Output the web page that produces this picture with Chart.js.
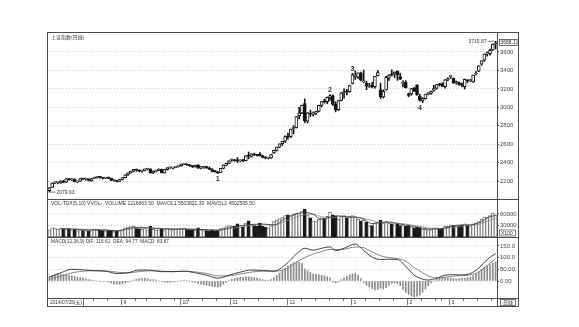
<!DOCTYPE html>
<html><head><meta charset="utf-8">
<script src="https://cdn.jsdelivr.net/npm/chart.js@4.4.1/dist/chart.umd.min.js"></script>
<style>
html,body{margin:0;padding:0;background:#fff;}
body{width:579px;height:327px;position:relative;overflow:hidden;}
canvas{position:absolute;}
.ln{position:absolute;background:#4a4a4a;z-index:5;}
</style></head><body>
<canvas id="cp" width="470" height="166" style="left:48px;top:33px"></canvas>
<canvas id="cv" width="470" height="38" style="left:48px;top:199px"></canvas>
<canvas id="cm" width="470" height="69" style="left:48px;top:237px"></canvas>
<div class="ln" style="left:47px;top:32px;width:472px;height:1px"></div>
<div class="ln" style="left:47px;top:306px;width:472px;height:1px"></div>
<div class="ln" style="left:47px;top:32px;width:1px;height:275px"></div>
<div class="ln" style="left:518px;top:32px;width:1px;height:275px"></div>
<div class="ln" style="left:497px;top:32px;width:1px;height:275px"></div>
<div class="ln" style="left:47px;top:199px;width:472px;height:1px"></div>
<div class="ln" style="left:47px;top:237px;width:472px;height:1px"></div>
<div class="ln" style="left:47px;top:298px;width:472px;height:1px"></div>
<script>
// ---------- DATA ----------
const priceTitle = '上证指数(日线)';
const volTitle = 'VOL-TDX(5,10) VVOL-  VOLUME 1216863.50  MAVOL1 5503821.30  MAVOL2 4502595.50';
const macdTitle = 'MACD(12,26,9) DIF: 116.61  DEA: 94.77  MACD: 83.67';
const firstDate = '2014/07/25(五)';
const periodLabel = '日线';
const lastPriceLabel = '3688.1';
const volUnitLabel = 'X100';

const opens = [2095,2131,2180,2182,2180,2198,2187,2222,2213,2222,
2190,2198,2226,2222,2222,2205,2228,2238,2243,2236,
2232,2240,2228,2206,2205,2196,
2218,2236,2267,2288,2308,2326,2313,2306,2316,2330,2330,
2287,2305,2316,2327,2289,2322,2344,2340,2348,2357,
2365,2383,2384,2370,2366,2354,2372,2340,2342,2356,
2340,2325,2305,2300,2292,2336,2372,2390,
2425,2430,2420,2418,2425,2420,2478,2466,2495,2485,
2495,2474,2455,2448,2450,2505,2532,2568,2604,2632,
2685,2680,2770,2780,2910,2940,3040,2850,2935,2925,
2938,2955,3020,3063,3060,3110,3125,3035,2975,3075,3160,3168,3170,
3258,3330,3327,3372,3276,3259,3223,3242,3224,3343,
3189,3113,3189,3317,3355,3359,3393,3330,3259,3273,
3147,3144,3212,3243,3121,3068,3093,3142,3150,3186,3207,3250,3257,3225,3298,
3332,3317,3264,3265,3246,3224,3292,3288,3276,3361,3391,3469,3510,3579,3583,3622,3689];
const highs = [2130,2180,2190,2186,2203,2208,2225,2230,2226,2225,
2198,2228,2230,2232,2225,2228,2243,2248,2248,2240,
2242,2243,2232,2212,2208,2218,
2238,2267,2290,2308,2327,2330,2322,2320,2332,2337,2335,
2310,2320,2332,2330,2325,2346,2352,2350,2358,2365,
2385,2391,2387,2380,2370,2374,2378,2360,2360,2362,
2352,2335,2313,2303,2337,2375,2395,2421,
2440,2436,2455,2430,2435,2475,2515,2495,2502,2490,
2508,2480,2462,2460,2490,2535,2568,2604,2632,2690,
2720,2764,2800,2900,3000,3025,3091,2942,2970,2950,
2958,3022,3062,3090,3112,3139,3135,3060,3075,3160,3200,3195,3240,
3369,3394,3374,3381,3404,3282,3260,3270,3337,3400,
3262,3190,3338,3354,3406,3384,3396,3371,3286,3289,
3156,3205,3214,3244,3142,3106,3142,3159,3177,3237,3248,3254,3265,3300,3323,
3344,3317,3286,3276,3266,3307,3300,3303,3350,3390,3450,3507,3578,3600,3632,3688,3715.87];
const lows = [2079.63,2130,2170,2170,2175,2183,2185,2210,2205,2192,
2182,2196,2215,2210,2200,2198,2225,2232,2230,2222,
2225,2226,2204,2198,2190,2193,
2212,2234,2262,2283,2300,2305,2300,2295,2310,2320,2285,
2281,2300,2312,2288,2285,2318,2337,2332,2342,2350,
2360,2377,2368,2358,2345,2350,2338,2330,2338,2338,
2325,2300,2296,2280,2290,2333,2365,2388,
2415,2415,2400,2410,2410,2418,2440,2460,2475,2470,
2470,2450,2440,2440,2446,2500,2525,2560,2585,2620,
2655,2670,2710,2775,2875,2930,2834,2830,2900,2905,
2920,2950,3005,3045,3040,3075,3020,2950,2965,3070,3100,3135,3165,
3253,3303,3312,3285,3268,3191,3215,3210,3207,3340,
3095,3100,3186,3292,3340,3323,3292,3300,3220,3209,
3114,3130,3170,3130,3066,3049,3089,3135,3140,3176,3197,3230,3222,3207,3289,
3313,3260,3250,3238,3221,3198,3267,3279,3270,3350,3386,3456,3498,3555,3565,3617,3632];
const closes = [2126,2178,2183,2182,2201,2185,2223,2217,2224,2194,
2194,2227,2224,2223,2206,2226,2239,2245,2240,2232,
2240,2229,2207,2206,2195,2217,
2235,2266,2288,2306,2326,2318,2307,2315,2331,2331,2290,
2308,2315,2329,2290,2323,2344,2345,2347,2357,2363,
2382,2389,2374,2366,2356,2373,2340,2341,2357,2340,
2327,2303,2302,2290,2337,2373,2391,2420,
2430,2420,2419,2425,2418,2473,2469,2494,2485,2478,
2474,2456,2450,2452,2487,2532,2567,2604,2630,2683,
2680,2763,2780,2899,2937,3020,2856,2940,2925,2938,
2953,3021,3061,3058,3108,3128,3032,2973,3073,3157,3168,3166,3235,
3351,3352,3374,3294,3285,3229,3223,3222,3336,3376,
3116,3173,3324,3343,3351,3383,3353,3305,3263,3211,
3128,3204,3175,3137,3076,3095,3142,3158,3173,3204,3247,3246,3229,3298,3310,
3336,3263,3280,3248,3241,3302,3286,3290,3349,3372,3449,3503,3577,3582,3617,3687,3691];
const volumes = [19000,24000,22000,20000,23000,21000,22000,21000,19000,20000,
16000,19000,17000,17000,16000,17000,21000,20000,19000,17000,
16000,17000,17000,14000,15000,16000,
19000,24000,26000,27000,28000,24000,22000,20000,22000,19000,28000,
20000,18000,19000,22000,19000,22000,21000,19000,20000,21000,
22000,22000,20000,19000,19000,18000,24000,19000,17000,17000,
16000,18000,16000,17000,22000,24000,27000,30000,
29000,28000,34000,26000,25000,36000,42000,33000,30000,28000,
36000,28000,25000,23000,30000,40000,44000,48000,52000,56000,
58000,56000,60000,62000,62000,66000,73000,58000,50000,42000,
40000,46000,50000,48000,54000,64000,58000,55000,46000,54000,56000,50000,52000,
56000,52000,46000,42000,44000,38000,30000,30000,36000,38000,
44000,36000,40000,36000,34000,32000,34000,30000,30000,28000,
30000,26000,24000,26000,24000,20000,20000,19000,19000,24000,24000,22000,22000,28000,28000,
32000,30000,28000,30000,32000,34000,32000,30000,34000,36000,40000,46000,52000,52000,56000,62000,58000];
const mavol1 = [[4,21600],[8,21000],[12,18600],[16,18000],[20,18200],[24,15800],[28,22000],[32,25400],[36,23200],[40,21400],[44,20600],[48,21000],[52,19600],[56,18800],[60,17600],[64,23600],[68,29400],[72,32600],[76,33800],[80,31400],[84,48000],[88,59600],[91,64600],[94,58600],[97,46000],[100,51600],[103,55400],[106,52200],[109,51600],[112,46000],[115,34800],[118,37600],[121,39200],[124,35200],[127,31000],[130,27200],[133,23000],[136,20400],[139,21600],[142,24800],[145,30600],[148,31000],[151,32600],[154,40000],[157,52800],[159,56000]];
const mavol2 = [[9,21000],[12,20000],[16,19000],[20,18200],[24,16800],[28,19500],[32,23000],[36,23500],[40,22200],[44,21000],[48,20800],[52,20200],[56,19200],[60,18300],[64,21000],[68,26000],[72,30500],[76,32000],[80,31500],[84,40500],[88,52000],[91,58000],[94,59500],[97,52500],[100,50500],[103,52500],[106,53500],[109,52500],[112,48500],[115,42500],[118,37500],[121,37000],[124,36000],[127,33500],[130,30000],[133,26500],[136,22500],[139,21200],[142,23000],[145,26500],[148,29500],[151,31000],[154,34500],[157,44000],[159,49000]];
const difLine = [[0,17],[4,35],[8,50],[12,48],[16,44],[20,42],[24,32],[28,35],[32,47],[36,46],[40,40],[44,40],[48,42],[52,35],[56,25],[60,12],[64,25],[68,38],[72,47],[76,45],[80,42],[84,68],[88,115],[91,140],[94,132],[97,140],[100,146],[102,130],[105,140],[109,158],[112,130],[115,102],[118,92],[121,93],[124,92],[127,62],[130,25],[133,8],[135,4],[138,12],[141,25],[144,27],[147,26],[150,32],[153,55],[156,92],[159,117]];
const deaLine = [[0,8],[4,20],[8,35],[12,42],[16,44],[20,43],[24,38],[28,35],[32,40],[36,44],[40,42],[44,40],[48,41],[52,39],[56,32],[60,22],[64,22],[68,30],[72,38],[76,42],[80,42],[84,50],[88,80],[91,100],[94,115],[97,126],[100,135],[102,134],[105,136],[109,145],[112,142],[115,124],[118,108],[121,100],[124,96],[127,84],[130,58],[133,35],[135,22],[138,13],[141,16],[144,21],[147,23],[150,26],[153,38],[156,66],[159,95]];
const macdHist = [18,22,26,30,30,28,26,24,22,20,
16,14,12,8,6,4,2,0,-1,-2,
-2,-4,-8,-12,-14,-14,-12,-8,-4,0,
4,8,10,12,12,10,6,6,4,2,
-2,-4,-6,-6,-4,-2,0,2,4,2,
0,-4,-6,-10,-14,-16,-18,-20,-22,-24,
-26,-22,-14,-6,2,8,12,14,16,16,
18,18,16,14,12,8,6,4,2,6,
14,24,34,44,54,64,72,78,82,80,
74,52,44,36,30,28,26,24,22,18,
14,-4,-8,-4,6,14,20,26,30,34,
24,10,-6,-18,-26,-32,-38,-36,-30,-34,
-28,-18,-10,-8,-12,-20,-36,-48,-58,-64,
-68,-66,-60,-48,-34,-20,-8,2,8,12,
14,16,14,12,10,8,10,12,12,14,
16,22,30,40,50,58,64,70,76,82];
const waveLabels = [{t:'1',i:60,p:2280,up:false},{t:'2',i:100,p:3139,up:true},{t:'3',i:108,p:3369,up:true},{t:'4',i:132,p:3049,up:false}];
const priceTicks = [2200,2400,2600,2800,3000,3200,3400,3600];
const volTicks = [30000,60000];
const macdTicks = [0,50,100,150];
const macdTickLabels = ['0.00','50.00','100.0','150.0'];
const monthStarts = [26,47,65,85,108,128,143];
const monthLabels = ['9','10','11','12','1','2','3'];
const weekStarts = [16,21,31,35,40,45,50,55,60,70,75,80,90,95,100,105,113,118,123,133,138,140,148,153,158];

// ---------- HELPERS ----------
const N = closes.length;
const idx = closes.map((_, i) => i);
const isUp = closes.map((c, i) => c >= opens[i]);
const FONT = '"Liberation Sans", "DejaVu Sans", sans-serif';
const CJK = '"Liberation Sans", "Noto Sans CJK SC", sans-serif';

function xScale() {
  return {type: 'linear', min: -0.5, max: N - 0.5, display: false, offset: false};
}
function yRight(min, max, ticks, labelFn) {
  return {
    type: 'linear', position: 'right', min, max,
    afterBuildTicks(s) { s.ticks = ticks.map(v => ({value: v})); },
    afterFit(s) { s.width = 21; s.paddingTop = 0; s.paddingBottom = 0; },
    ticks: {font: {family: 'Liberation Sans', size: 6}, color: '#444', padding: 1, callback: labelFn},
    grid: {color: '#cfcfcf', lineWidth: 1, drawTicks: true, tickLength: 2, tickColor: '#555', tickBorderDash: []},
    border: {display: false, dash: [1, 2]}
  };
}
const baseOpts = (extra) => Object.assign({
  responsive: false, animation: false, devicePixelRatio: 1,
  plugins: {legend: {display: false}, tooltip: {enabled: false}},
  layout: {padding: 0}
}, extra);

// ---------- PRICE ----------
const priceDeco = {
  id: 'priceDeco',
  afterDraw(chart) {
    const {ctx, chartArea: a, scales: {x, y}} = chart;
    ctx.save();
    ctx.fillStyle = '#333';
    ctx.textAlign = 'left'; ctx.textBaseline = 'top';
    ctx.font = '5px "Noto Sans CJK SC"';
    ctx.fillText(priceTitle, 3, 2);
    ctx.font = 'bold 7px ' + FONT;
    ctx.textAlign = 'center';
    waveLabels.forEach(w => {
      const px = x.getPixelForValue(w.i), py = y.getPixelForValue(w.p);
      ctx.textBaseline = w.up ? 'bottom' : 'top';
      ctx.fillText(w.t, px, w.up ? py - 1 : py + 2);
    });
    ctx.font = '5px ' + FONT;
    ctx.strokeStyle = '#333'; ctx.lineWidth = 0.7;
    let li = 0; lows.forEach((v, i) => { if (v < lows[li]) li = i; });
    const lx = x.getPixelForValue(li), ly = y.getPixelForValue(lows[li]);
    ctx.beginPath(); ctx.moveTo(lx + 1, ly); ctx.lineTo(lx + 6, ly); ctx.stroke();
    ctx.textAlign = 'left'; ctx.textBaseline = 'middle';
    ctx.fillText(lows[li].toFixed(2), lx + 7, ly + 0.5);
    let hi = 0; highs.forEach((v, i) => { if (v > highs[hi]) hi = i; });
    const hx = x.getPixelForValue(hi), hy = y.getPixelForValue(highs[hi]);
    ctx.beginPath(); ctx.moveTo(hx - 2, hy); ctx.lineTo(hx - 8, hy); ctx.stroke();
    ctx.textAlign = 'right';
    ctx.fillText(highs[hi].toFixed(2), hx - 9, hy + 0.5);
    const cy = y.getPixelForValue(closes[N - 1]) - 1;
    ctx.fillStyle = '#fff';
    ctx.fillRect(a.right + 2, cy - 3, 18, 6);
    ctx.strokeRect(a.right + 2.5, cy - 3, 17.5, 6);
    ctx.fillStyle = '#333'; ctx.textAlign = 'left';
    ctx.fillText(lastPriceLabel, a.right + 3.5, cy + 0.3);
    ctx.restore();
  }
};
new Chart(document.getElementById('cp'), {
  type: 'bar',
  data: {datasets: [
    {type: 'bar', data: idx.map(i => ({x: i, y: [lows[i], highs[i]]})), backgroundColor: '#151515',
     borderWidth: 0, barThickness: 1, grouped: false, order: 2},
    {type: 'bar', data: idx.map(i => ({x: i, y: [opens[i], closes[i]]})),
     backgroundColor: isUp.map(u => u ? '#ffffff' : '#151515'), borderColor: '#151515',
     borderWidth: 1, borderSkipped: false, barThickness: 3, minBarLength: 1, grouped: false, order: 1}
  ]},
  options: baseOpts({scales: {x: xScale(), y: yRight(2005, 3806, priceTicks, v => String(v))}}),
  plugins: [priceDeco]
});

// ---------- VOLUME ----------
const volDeco = {
  id: 'volDeco',
  afterDraw(chart) {
    const {ctx, chartArea: a} = chart;
    ctx.save();
    ctx.fillStyle = '#333'; ctx.font = '5px ' + FONT;
    ctx.textAlign = 'left'; ctx.textBaseline = 'top';
    ctx.fillText(volTitle, 3, 2, 204);
    ctx.strokeStyle = '#444'; ctx.lineWidth = 0.7;
    ctx.strokeRect(a.right + 2.5, a.bottom - 7, 16, 6);
    ctx.textBaseline = 'middle';
    ctx.fillText(volUnitLabel, a.right + 4, a.bottom - 3.8);
    ctx.restore();
  }
};
new Chart(document.getElementById('cv'), {
  type: 'bar',
  data: {datasets: [
    {type: 'line', data: mavol1.map(([i, v]) => ({x: i, y: v})), borderColor: '#333', borderWidth: 0.8,
     pointRadius: 0, cubicInterpolationMode: 'monotone', order: 0},
    {type: 'line', data: mavol2.map(([i, v]) => ({x: i, y: v})), borderColor: '#888', borderWidth: 0.8,
     pointRadius: 0, cubicInterpolationMode: 'monotone', order: 0},
    {type: 'bar', data: idx.map(i => ({x: i, y: volumes[i]})),
     backgroundColor: isUp.map(u => u ? '#ffffff' : '#1a1a1a'), borderColor: isUp.map(u => u ? '#777' : '#1a1a1a'),
     borderWidth: 1, borderSkipped: false, barThickness: 3, grouped: false, order: 1}
  ]},
  options: baseOpts({scales: {x: xScale(), y: yRight(0, 99000, volTicks, v => String(v))}}),
  plugins: [volDeco]
});

// ---------- MACD ----------
const macdDeco = {
  id: 'macdDeco',
  afterDraw(chart) {
    const {ctx, chartArea: a, scales: {x}} = chart;
    ctx.save();
    ctx.fillStyle = '#333'; ctx.font = '5px ' + FONT;
    ctx.textAlign = 'left'; ctx.textBaseline = 'top';
    ctx.fillText(macdTitle, 3, 2, 118);
    const top = a.bottom + 1, mid = a.bottom + 4.5;
    ctx.strokeStyle = '#555'; ctx.lineWidth = 0.8;
    ctx.beginPath(); ctx.moveTo(35.5, top); ctx.lineTo(35.5, top + 7); ctx.stroke();
    ctx.textBaseline = 'middle'; ctx.font = '5px ' + CJK;
    ctx.fillText(firstDate, 2, mid, 32);
    weekStarts.forEach(i => {
      const px = Math.round(x.getPixelForValue(i - 0.5)) + 0.5;
      ctx.beginPath(); ctx.moveTo(px, top); ctx.lineTo(px, top + 2); ctx.stroke();
    });
    monthStarts.forEach((i, k) => {
      const px = Math.round(x.getPixelForValue(i - 0.5)) + 0.5;
      ctx.beginPath(); ctx.moveTo(px, top); ctx.lineTo(px, top + 6); ctx.stroke();
      ctx.fillText(monthLabels[k], px + 2, mid);
    });
    ctx.strokeRect(a.right + 3.5, top + 0.5, 15, 6);
    ctx.textAlign = 'center';
    ctx.font = '5px "Noto Sans CJK SC"';
    ctx.fillText(periodLabel, a.right + 11, mid);
    ctx.restore();
  }
};
new Chart(document.getElementById('cm'), {
  type: 'bar',
  data: {datasets: [
    {type: 'line', data: difLine.map(([i, v]) => ({x: i, y: v})), borderColor: '#2a2a2a', borderWidth: 0.9,
     pointRadius: 0, cubicInterpolationMode: 'monotone', order: 0},
    {type: 'line', data: deaLine.map(([i, v]) => ({x: i, y: v})), borderColor: '#777', borderWidth: 0.9,
     pointRadius: 0, cubicInterpolationMode: 'monotone', order: 0},
    {type: 'bar', data: idx.map(i => ({x: i, y: macdHist[i]})), backgroundColor: '#8a8a8a',
     borderWidth: 0, barThickness: 1, grouped: false, order: 1}
  ]},
  options: baseOpts({layout: {padding: {bottom: 8}},
    scales: {x: xScale(), y: yRight(-72.6, 188, macdTicks, v => macdTickLabels[macdTicks.indexOf(v)])}}),
  plugins: [macdDeco]
});
</script>
</body></html>
